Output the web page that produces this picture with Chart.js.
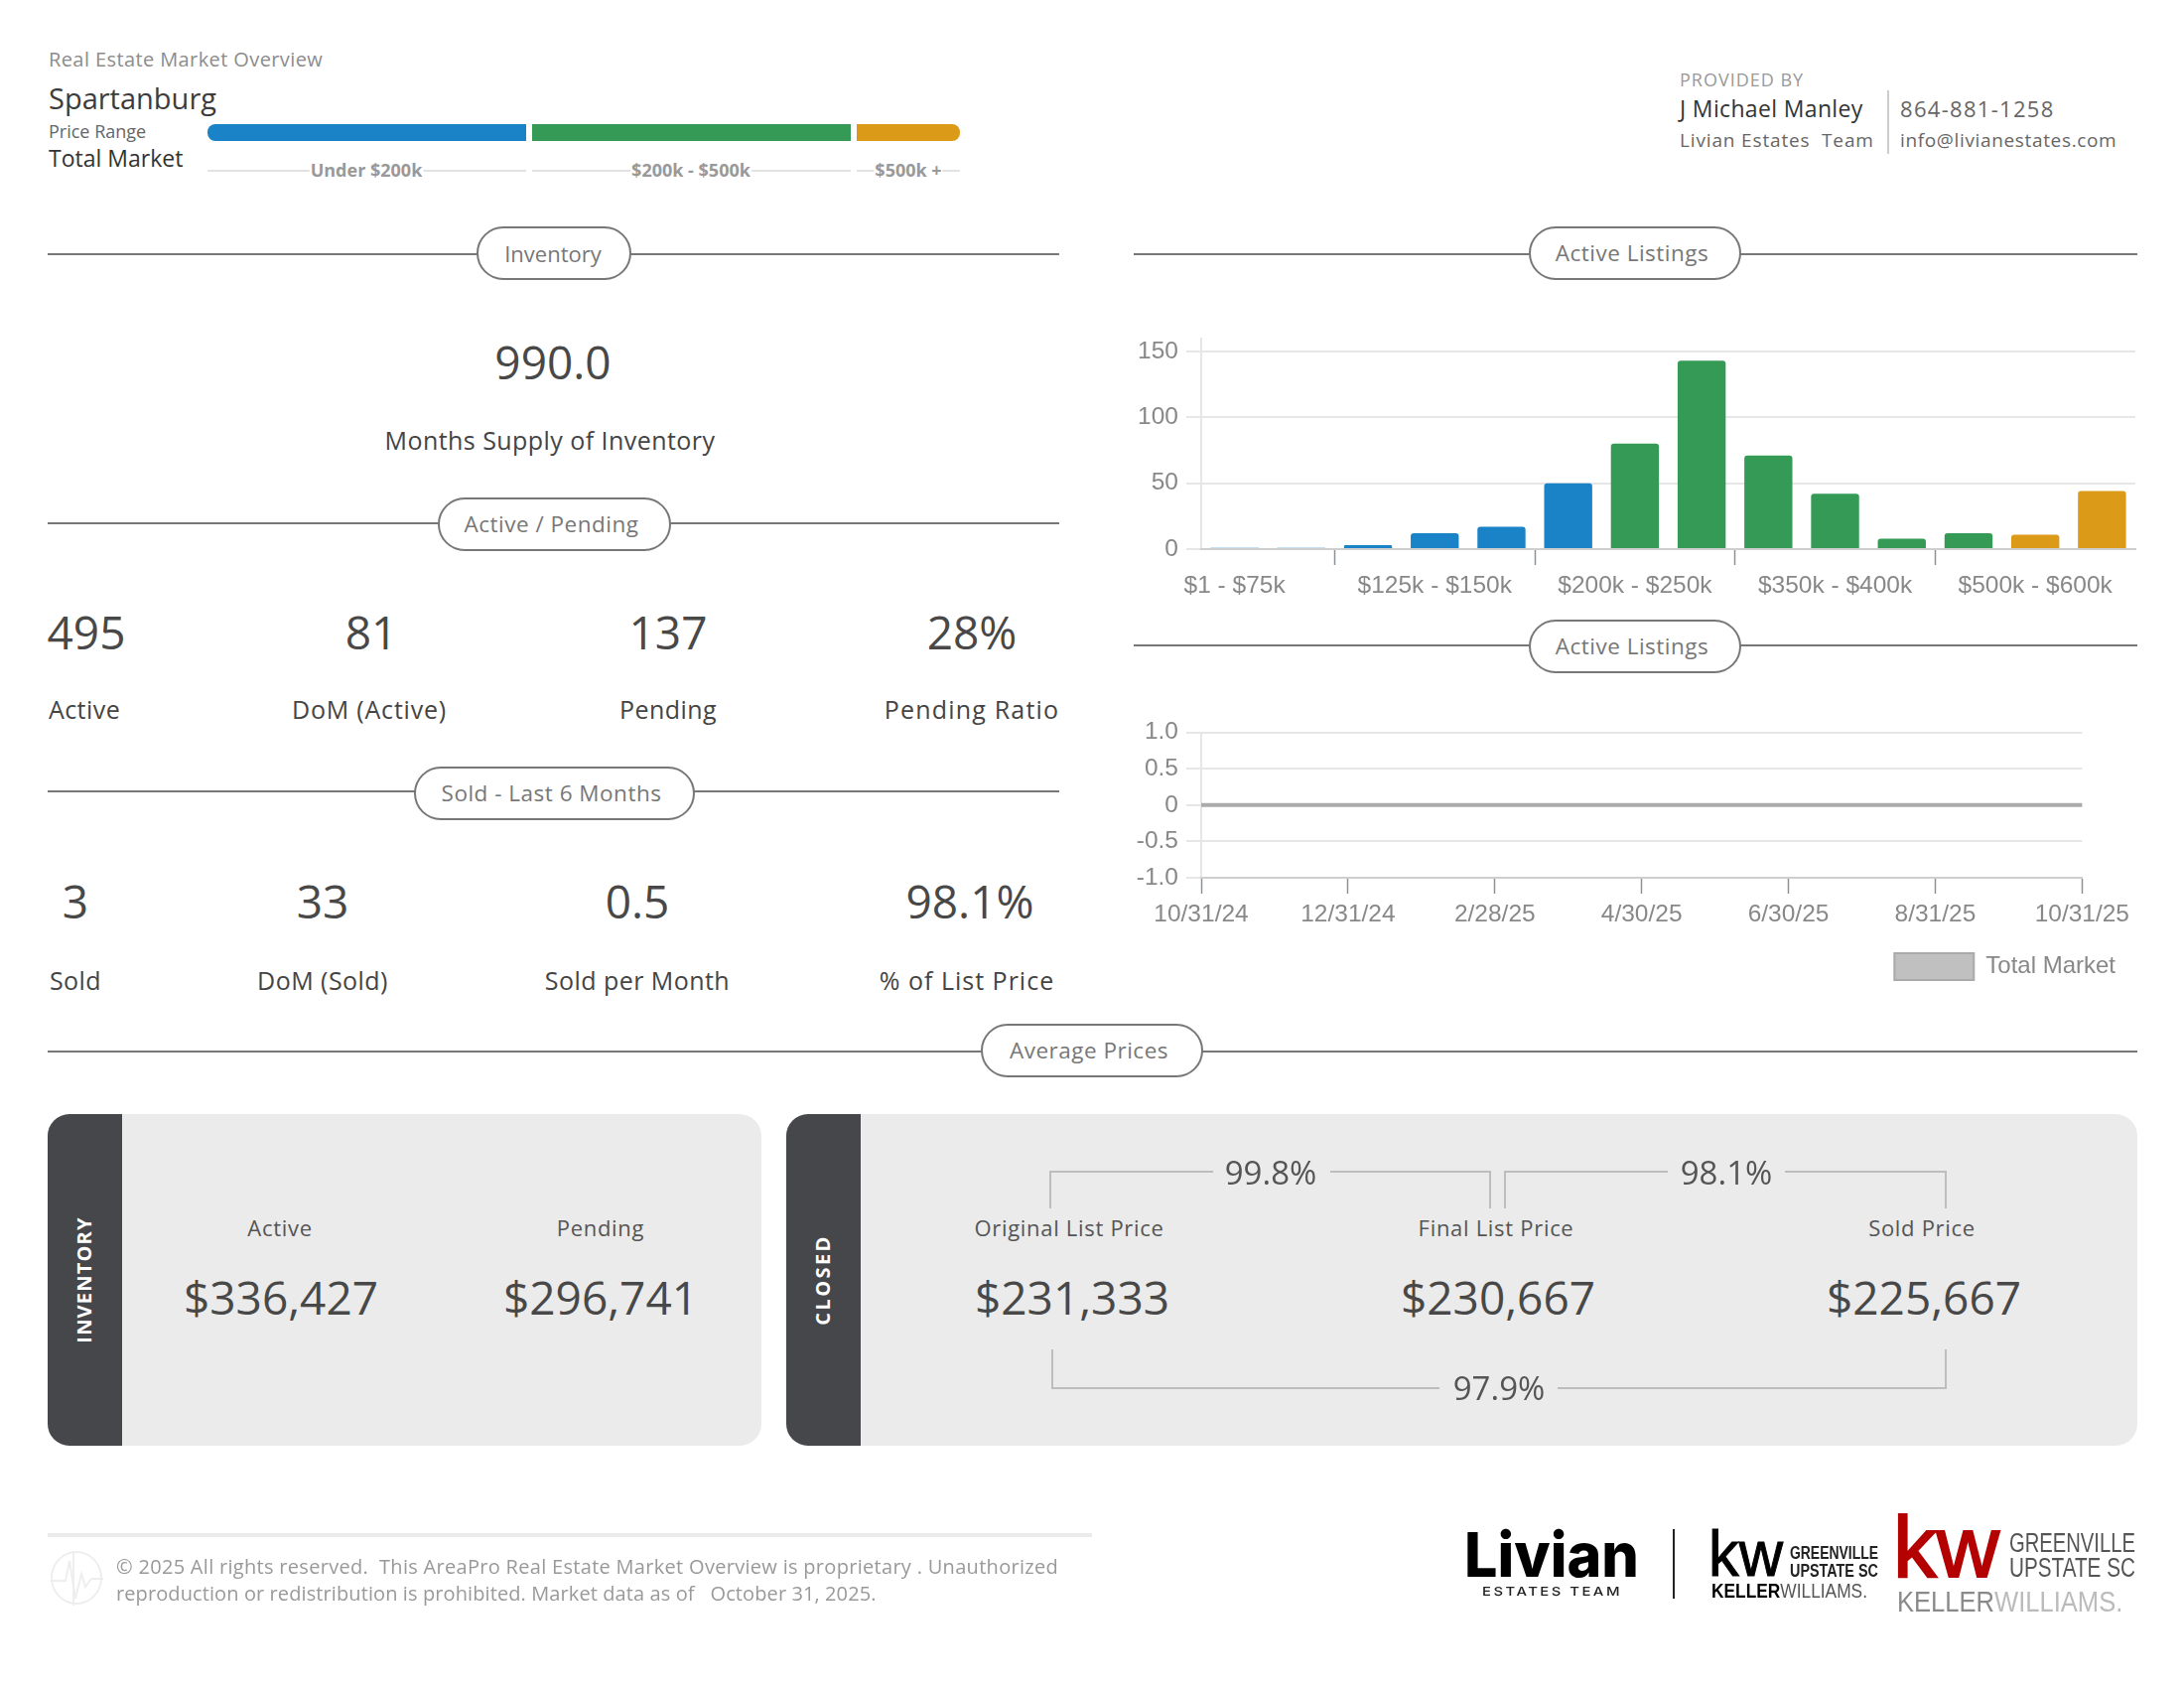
<!DOCTYPE html>
<html>
<head>
<meta charset="utf-8">
<title>Real Estate Market Overview</title>
<script src="https://cdn.jsdelivr.net/npm/chart.js@4"></script>
<style>
  html, body { margin: 0; padding: 0; background: #fff; }
  #page { position: relative; width: 2200px; height: 1700px; overflow: hidden; font-family: "Open Sans", sans-serif; color: #444; }
  #page > * { position: absolute; }
  .t { white-space: pre; line-height: 1; transform: translateY(-50%); }
  .c { transform: translate(-50%, -50%); }
  .rule { height: 2px; background: #777; }
  .pill { height: 50px; line-height: 50px; border: 2px solid #777; border-radius: 27px; background: #fff; text-align: center; font-size: 22.5px; letter-spacing: 0.5px; text-indent: -6px; color: #777; box-sizing: content-box; }
  .num { font-size: 46px; color: #484848; }
  .lab { font-size: 25px; letter-spacing: 0.45px; color: #444; }
  .panel { background: #ebebeb; border-radius: 22px; overflow: hidden; top: 1122px; height: 334px; }
  .side { position: absolute; left: 0; top: 0; bottom: 0; width: 75px; background: #46474b; }
  .rot { color: #fff; font-weight: 700; font-size: 20px; transform: translate(-50%, -50%) rotate(-90deg); }
  .plab { font-size: 22px; letter-spacing: 0.7px; color: #555; }
  .pct { font-size: 33px; color: #555; }
  .seg { top: 125px; height: 17px; }
  .segline { top: 171px; height: 2px; background: #e2e2e2; }
  .seglab { top: 171px; font-size: 18px; font-weight: 700; color: #999; background: #fff; padding: 0 1px; }
  canvas { display: block; }
</style>
</head>
<body>
<div id="page">
  <!-- header -->
  <div class="t" style="left:49px;top:60px;font-size:20px;letter-spacing:0.4px;color:#8c8c8c">Real Estate Market Overview</div>
  <div class="t" style="left:49px;top:98px;font-size:29px;color:#3c3c3c">Spartanburg</div>
  <div class="t" style="left:49px;top:132px;font-size:18px;color:#666">Price Range</div>
  <div class="t" style="left:49px;top:159px;font-size:23px;color:#333">Total Market</div>

  <div class="seg" style="left:209px;width:321px;background:#1a82c6;border-radius:8px 0 0 8px"></div>
  <div class="seg" style="left:536px;width:321px;background:#349a56"></div>
  <div class="seg" style="left:863px;width:104px;background:#db9a17;border-radius:0 8px 8px 0"></div>
  <div class="segline" style="left:209px;width:321px"></div>
  <div class="segline" style="left:536px;width:321px"></div>
  <div class="segline" style="left:863px;width:104px"></div>
  <div class="t c seglab" style="left:369px">Under $200k</div>
  <div class="t c seglab" style="left:696px">$200k - $500k</div>
  <div class="t c seglab" style="left:915px">$500k +</div>

  <div class="t" style="left:1692px;top:80px;font-size:18px;letter-spacing:1px;color:#999">PROVIDED BY</div>
  <div class="t" style="left:1692px;top:109px;font-size:23px;letter-spacing:0.35px;color:#333">J Michael Manley</div>
  <div class="t" style="left:1692px;top:141px;font-size:19px;letter-spacing:0.85px;color:#666">Livian Estates  Team</div>
  <div style="left:1901px;top:91px;width:2px;height:64px;background:#ccc"></div>
  <div class="t" style="left:1914px;top:109px;font-size:22px;letter-spacing:1.3px;color:#666">864-881-1258</div>
  <div class="t" style="left:1914px;top:141px;font-size:19px;letter-spacing:0.65px;color:#666">info@livianestates.com</div>

  <!-- section rules -->
  <div class="rule" style="left:48px;top:255px;width:1019px"></div>
  <div class="pill" style="left:480px;top:228px;width:152px;font-size:22px;letter-spacing:0;text-indent:-2px">Inventory</div>
  <div class="rule" style="left:1142px;top:255px;width:1011px"></div>
  <div class="pill" style="left:1540px;top:228px;width:210px">Active Listings</div>
  <div class="rule" style="left:48px;top:526px;width:1019px"></div>
  <div class="pill" style="left:441px;top:501px;width:231px">Active / Pending</div>
  <div class="rule" style="left:1142px;top:649px;width:1011px"></div>
  <div class="pill" style="left:1540px;top:624px;width:210px">Active Listings</div>
  <div class="rule" style="left:48px;top:796px;width:1019px"></div>
  <div class="pill" style="left:417px;top:772px;width:279px">Sold - Last 6 Months</div>
  <div class="rule" style="left:48px;top:1058px;width:2105px"></div>
  <div class="pill" style="left:988px;top:1031px;width:220px">Average Prices</div>

  <!-- left stats -->
  <div class="t c num" style="left:557px;top:364px">990.0</div>
  <div class="t c lab" style="left:554px;top:443px">Months Supply of Inventory</div>

  <div class="t c num" style="left:87px;top:636px">495</div>
  <div class="t c num" style="left:374px;top:636px">81</div>
  <div class="t c num" style="left:673px;top:636px">137</div>
  <div class="t c num" style="left:979px;top:636px">28%</div>
  <div class="t c lab" style="left:85px;top:714px">Active</div>
  <div class="t c lab" style="left:372px;top:714px;letter-spacing:0.8px">DoM (Active)</div>
  <div class="t c lab" style="left:673px;top:714px">Pending</div>
  <div class="t c lab" style="left:979px;top:714px;letter-spacing:1.2px">Pending Ratio</div>

  <div class="t c num" style="left:76px;top:907px">3</div>
  <div class="t c num" style="left:325px;top:907px">33</div>
  <div class="t c num" style="left:642px;top:907px">0.5</div>
  <div class="t c num" style="left:977px;top:907px">98.1%</div>
  <div class="t c lab" style="left:76px;top:987px">Sold</div>
  <div class="t c lab" style="left:325px;top:987px">DoM (Sold)</div>
  <div class="t c lab" style="left:642px;top:987px">Sold per Month</div>
  <div class="t c lab" style="left:974px;top:987px;letter-spacing:1px">% of List Price</div>

  <!-- charts -->
  <canvas id="barChart" width="1020" height="303" style="left:1140px;top:318px"></canvas>
  <canvas id="lineChart" width="1012" height="282" style="left:1140px;top:715px"></canvas>

  <!-- average price panels -->
  <div class="panel" style="left:48px;width:719px"><div class="side"></div></div>
  <div class="panel" style="left:792px;width:1361px"><div class="side"></div></div>
  <div class="t c rot" style="left:85px;top:1289px;letter-spacing:1.2px">INVENTORY</div>
  <div class="t c rot" style="left:829px;top:1289px;letter-spacing:2.4px">CLOSED</div>

  <div class="t c plab" style="left:282px;top:1236px">Active</div>
  <div class="t c plab" style="left:605px;top:1236px">Pending</div>
  <div class="t c num" style="left:283px;top:1306px">$336,427</div>
  <div class="t c num" style="left:605px;top:1306px">$296,741</div>

  <div class="t c plab" style="left:1077px;top:1236px">Original List Price</div>
  <div class="t c plab" style="left:1507px;top:1236px">Final List Price</div>
  <div class="t c plab" style="left:1936px;top:1236px">Sold Price</div>
  <div class="t c num" style="left:1080px;top:1306px">$231,333</div>
  <div class="t c num" style="left:1509px;top:1306px">$230,667</div>
  <div class="t c num" style="left:1938px;top:1306px">$225,667</div>

  <svg width="2200" height="1700" style="left:0;top:0" fill="none" stroke="#bdbdbd" stroke-width="2">
    <path d="M1058 1217V1180H1222M1340 1180H1501V1217"/>
    <path d="M1516 1217V1180H1680M1798 1180H1960V1217"/>
    <path d="M1060 1359V1398H1450M1569 1398H1960V1359"/>
    <!-- footer mark -->
    <g stroke="#eeeeee" stroke-width="2">
      <ellipse cx="77" cy="1589" rx="25" ry="26"/>
      <path d="M51 1592H66L70 1572L76 1610L82 1585L86 1598L92 1590H104M74 1562V1617"/>
    </g>
    <!-- logos -->
    <g stroke="none" font-family="Liberation Sans">
      <text data-x="1475" data-y="1588" data-w="176" font-family="Inter" font-weight="800" font-size="62" fill="#000">Livian</text>
      <text data-x="1493" data-y="1607" data-w="141" font-family="Inter" font-weight="500" font-size="12" letter-spacing="2" fill="#222">ESTATES TEAM</text>
      <rect x="1685" y="1540" width="2" height="70" fill="#222"/>
      <text data-x="1721" data-y="1587" data-w="75" font-weight="400" font-size="64" fill="#000" stroke="#000" stroke-width="1">kw</text>
      <text data-x="1803" data-y="1570" data-w="89" font-weight="700" font-size="18" fill="#222">GREENVILLE</text>
      <text data-x="1803" data-y="1588" data-w="89" font-weight="700" font-size="18" fill="#222">UPSTATE SC</text>
      <text data-x="1724" data-y="1609" data-w="157" font-size="21" fill="#000"><tspan font-weight="700">KELLER</tspan><tspan fill="#555">WILLIAMS.</tspan></text>
      <text data-x="1907" data-y="1588" data-w="107" font-weight="400" font-size="88" fill="#b40101" stroke="#b40101" stroke-width="2">kw</text>
      <text data-x="2024" data-y="1563" data-w="127" font-size="28" fill="#555">GREENVILLE</text>
      <text data-x="2024" data-y="1588" data-w="127" font-size="28" fill="#555">UPSTATE SC</text>
      <text data-x="1911" data-y="1623" data-w="227" font-size="30" fill="#8a8a8a"><tspan>KELLER</tspan><tspan fill="#bbbbbb">WILLIAMS.</tspan></text>
    </g>
  </svg>

  <div class="t c pct" style="left:1280px;top:1180px">99.8%</div>
  <div class="t c pct" style="left:1739px;top:1180px">98.1%</div>
  <div class="t c pct" style="left:1510px;top:1397px">97.9%</div>

  <!-- footer -->
  <div style="left:48px;top:1544px;width:1052px;height:4px;background:#ebebeb"></div>
  <div class="t" style="left:117px;top:1578px;font-size:20px;letter-spacing:0.3px;color:#999">© 2025 All rights reserved.  This AreaPro Real Estate Market Overview is proprietary . Unauthorized</div>
  <div class="t" style="left:117px;top:1605px;font-size:20px;letter-spacing:0.1px;color:#999">reproduction or redistribution is prohibited. Market data as of   October 31, 2025.</div>
</div>

<script>
  /* Values */
  const priceRanges = [
    "$1 - $75k", "$75k - $100k", "$100k - $125k", "$125k - $150k", "$150k - $175k",
    "$175k - $200k", "$200k - $250k", "$250k - $300k", "$300k - $350k", "$350k - $400k",
    "$400k - $450k", "$450k - $500k", "$500k - $600k", "$600k +",
  ];
  const activeListings = [1, 1, 3, 12, 17, 50, 80, 143, 71, 42, 8, 12, 11, 44];

  const trendDates = [
    "10/31/24", "11/30/24", "12/31/24", "1/31/25", "2/28/25", "3/31/25", "4/30/25",
    "5/31/25", "6/30/25", "7/31/25", "8/31/25", "9/30/25", "10/31/25",
  ];
  const totalMarket = [0, 0, 0, 0, 0, 0, 0, 0, 0, 0, 0, 0, 0];

  const BLUE = "#1a82c6";
  const GREEN = "#349a56";
  const ORANGE = "#db9a17";
  const GRID = "#e6e6e6";
  const TICK = "#8c9196";
  const LABEL = "#888888";

  Chart.defaults.animation = false;
  Chart.defaults.font.family = '"Liberation Sans", Arial, sans-serif';
  Chart.defaults.font.size = 24.5;
  Chart.defaults.color = LABEL;

  // squeeze logo lettering to the width it has in the picture
  document.querySelectorAll("svg text[data-w]").forEach((el) => {
    const sx = el.dataset.w / el.getComputedTextLength();
    el.setAttribute("transform", `translate(${el.dataset.x} ${el.dataset.y}) scale(${sx} 1)`);
  });

  function bandColor(i) {
    if (i < 6) return BLUE;
    return i < 12 ? GREEN : ORANGE;
  }

  new Chart(document.getElementById("barChart"), {
    type: "bar",
    data: {
      labels: priceRanges,
      datasets: [
        {
          label: "Active Listings",
          data: activeListings,
          backgroundColor: (ctx) => bandColor(ctx.dataIndex),
          barPercentage: 0.72,
          categoryPercentage: 1,
          borderRadius: { topLeft: 3, topRight: 3 },
          borderSkipped: "bottom",
        },
      ],
    },
    options: {
      responsive: false,
      layout: { padding: { right: 9, top: 15 } },
      plugins: { legend: { display: false }, tooltip: { enabled: false } },
      scales: {
        y: {
          min: 0,
          max: 160,
          ticks: { stepSize: 50, padding: 8, includeBounds: false },
          afterFit: (axis) => {
            axis.width = 70;
          },
          grid: { color: GRID, lineWidth: 2, tickLength: 15 },
          border: { color: GRID, width: 2 },
        },
        x: {
          ticks: {
            autoSkip: false,
            maxRotation: 0,
            padding: 7,
            callback: function (value, i) {
              return i % 3 === 0 ? this.getLabelForValue(value) : "";
            },
          },
          afterFit: (axis) => {
            axis.height = 68;
          },
          grid: {
            drawOnChartArea: false,
            tickLength: 16,
            tickWidth: 1.5,
            tickColor: (ctx) => (ctx.index % 3 === 2 ? TICK : "transparent"),
          },
          border: { color: "#cfcfcf", width: 2 },
        },
      },
    },
  });

  new Chart(document.getElementById("lineChart"), {
    type: "line",
    data: {
      labels: trendDates,
      datasets: [
        {
          label: "Total Market",
          data: totalMarket,
          borderColor: "#aaaaaa",
          backgroundColor: "#c0c0c0",
          borderWidth: 4,
          pointRadius: 0,
        },
      ],
    },
    options: {
      responsive: false,
      layout: { padding: { right: 15, top: 8 } },
      plugins: {
        tooltip: { enabled: false },
        legend: {
          position: "bottom",
          align: "end",
          labels: {
            boxWidth: 80,
            boxHeight: 27,
            padding: 6,
            color: LABEL,
            font: { size: 24 },
            generateLabels: (chart) =>
              Chart.defaults.plugins.legend.labels
                .generateLabels(chart)
                .map((item) => ({ ...item, lineWidth: 2 })),
          },
        },
      },
      scales: {
        y: {
          min: -1,
          max: 1,
          ticks: {
            stepSize: 0.5,
            padding: 8,
            callback: (v) => (v === 0 ? "0" : v.toFixed(1)),
          },
          afterFit: (axis) => {
            axis.width = 70;
          },
          grid: { color: GRID, lineWidth: 2, tickLength: 15 },
          border: { color: GRID, width: 2 },
        },
        x: {
          ticks: { autoSkip: false, maxRotation: 0, padding: 7 },
          afterBuildTicks: (axis) => {
            axis.ticks = axis.ticks.filter((t, i) => i % 2 === 0);
          },
          afterFit: (axis) => {
            axis.height = 70;
          },
          grid: { drawOnChartArea: false, tickLength: 16, tickWidth: 1.5, tickColor: TICK },
          border: { color: "#cfcfcf", width: 2 },
        },
      },
    },
  });
</script>
</body>
</html>
